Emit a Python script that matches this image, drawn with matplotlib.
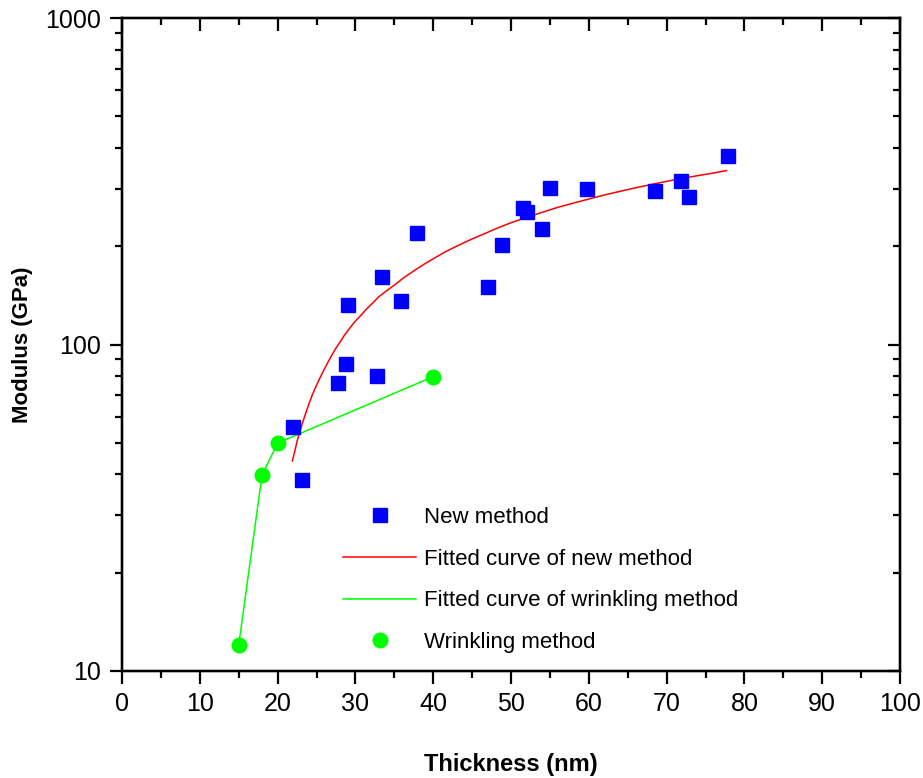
import matplotlib
matplotlib.use("Agg")
import matplotlib.pyplot as plt
from matplotlib.ticker import MultipleLocator, LogLocator, NullFormatter, FixedLocator

# ---- data ----
new_x = [22.0, 23.2, 27.8, 28.8, 29.0, 32.8, 33.4, 35.9, 37.9, 47.0, 48.9,
         51.5, 52.0, 54.0, 55.0, 59.8, 68.5, 71.9, 72.9, 77.9]
new_y = [56, 38.5, 76, 87, 132, 80, 161, 136, 219, 150, 202,
         261, 255, 226, 301, 299, 296, 316, 283, 379]

fit_new_x = [21.9, 22.2, 22.5, 22.8, 23.2, 23.6, 24.0, 24.5, 25.0, 25.5, 26.0,
             26.5, 27.0, 27.5, 28.0, 28.5, 29.0, 29.5, 30.0, 30.8, 31.5, 32.3,
             33.0, 34.0, 35.0, 36.2, 37.5, 38.8, 40.0, 41.5, 43.0, 44.8, 46.5,
             48.2, 50.0, 52.0, 54.0, 56.0, 58.0, 60.0, 62.0, 64.0, 66.0, 68.0,
             70.0, 72.0, 74.0, 76.0, 77.7]
fit_new_y = [44, 47, 50.5, 53.5, 57.5, 61.5, 65.5, 70.5, 75, 79.5, 84,
             88.5, 93, 97.5, 101.5, 106, 110, 114, 118, 123.5, 129, 134.5,
             140, 146, 152, 160, 168, 176, 183, 192, 200, 209.5, 218,
             227, 236, 245, 254, 263, 271, 279, 287, 294.5, 302, 309,
             316, 322.5, 329, 335, 341]

wr_x = [15, 18, 20, 40]
wr_y = [12.0, 39.8, 49.9, 79.7]

xticks = [0, 10, 20, 30, 40, 50, 60, 70, 80, 90, 100]
yticks = [10, 100, 1000]

font = ['Liberation Sans', 'Arial', 'DejaVu Sans']
plt.rcParams['font.family'] = font

fig = plt.figure(figsize=(9.23, 7.78), dpi=100)
ax = fig.add_axes([122/923, 1-671/778, (900-122)/923, (671-18)/778])

ax.plot(fit_new_x, fit_new_y, color='#FF0000', lw=1.1, zorder=2, label='Fitted curve of new method')
ax.plot(wr_x, wr_y, color='#00FF00', lw=1.1, zorder=2, label='Fitted curve of wrinkling method')
ax.plot(new_x, new_y, 's', color='#0000FF', ms=9.6, mec='#0000FF', zorder=3, label='New method')
ax.plot(wr_x, wr_y, 'o', color='#00FF00', ms=10.5, mec='#00FF00', zorder=3, label='Wrinkling method')

ax.set_yscale('log')
ax.set_xlim(0, 100)
ax.set_ylim(10, 1000)
ax.xaxis.set_major_locator(FixedLocator(xticks))
ax.xaxis.set_minor_locator(MultipleLocator(5))
ax.yaxis.set_major_locator(FixedLocator(yticks))
ax.yaxis.set_minor_locator(LogLocator(base=10, subs=range(2, 10)))
ax.yaxis.set_minor_formatter(NullFormatter())
ax.set_yticklabels([str(v) for v in yticks])
ax.set_xticklabels([str(v) for v in xticks])

for s in ax.spines.values():
    s.set_linewidth(1.6)
ax.tick_params(which='major', direction='out', length=9, width=1.6, labelsize=18, pad=6)
ax.tick_params(which='minor', direction='out', length=5, width=1.6)

ax.set_xlabel('Thickness (nm)', fontsize=17, fontweight='bold', labelpad=27)
ax.set_ylabel('Modulus (GPa)', fontsize=16, fontweight='bold', labelpad=9)

# top / right inward ticks
axt = ax.twiny()
axt.set_xlim(0, 100)
axt.xaxis.set_major_locator(FixedLocator(xticks))
axt.xaxis.set_minor_locator(MultipleLocator(5))
axt.tick_params(which='major', direction='in', length=9, width=1.6, labeltop=False)
axt.tick_params(which='minor', direction='in', length=5, width=1.6)
axr = ax.twinx()
axr.set_yscale('log')
axr.set_ylim(10, 1000)
axr.yaxis.set_major_locator(FixedLocator(yticks))
axr.yaxis.set_minor_locator(LogLocator(base=10, subs=range(2, 10)))
axr.yaxis.set_minor_formatter(NullFormatter())
axr.tick_params(which='major', direction='in', length=9, width=1.6, labelright=False)
axr.tick_params(which='minor', direction='in', length=5, width=1.6)
for a in (axt, axr):
    for s in a.spines.values():
        s.set_linewidth(1.6)

h, l = ax.get_legend_handles_labels()
order = [2, 0, 1, 3]
leg = ax.legend([h[i] for i in order], [l[i] for i in order], loc='upper left',
                bbox_to_anchor=((343-122)/778, (671-507)/653), frameon=False,
                fontsize=16, handlelength=3.3, handletextpad=0.35, labelspacing=0.93,
                borderaxespad=0, borderpad=0)

fig.savefig('out.png', dpi=100)
